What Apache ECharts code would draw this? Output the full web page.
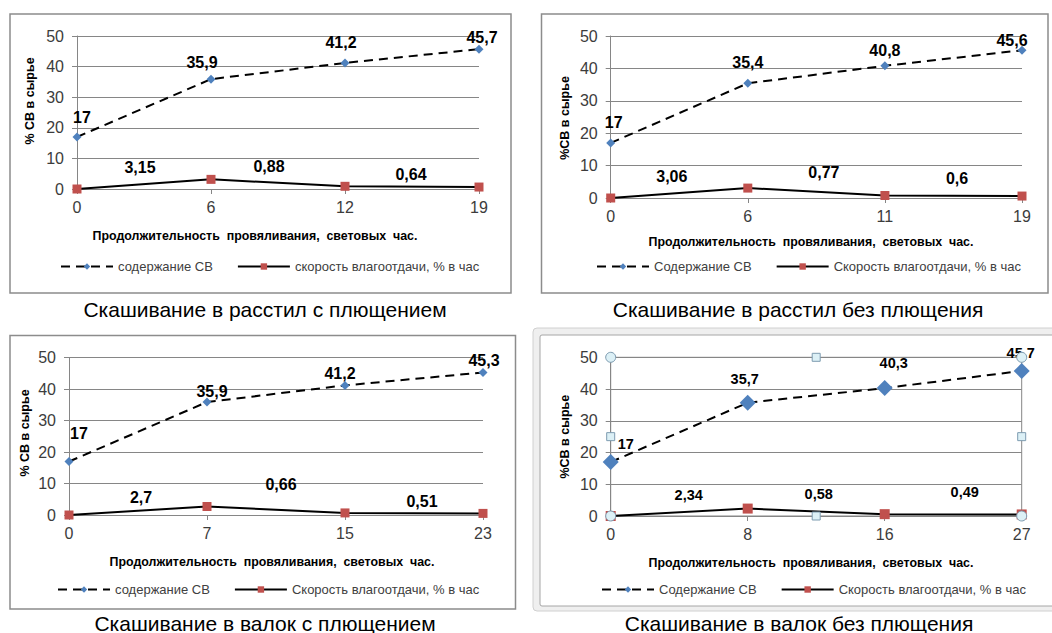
<!DOCTYPE html>
<html>
<head>
<meta charset="utf-8">
<script src="https://cdn.jsdelivr.net/npm/echarts@6/dist/echarts.min.js"></script>
<style>
  html, body { margin: 0; padding: 0; background: #ffffff; }
  #chart { width: 1052px; height: 633px; }
</style>
</head>
<body>
<div id="chart"></div>
<script>
// ---- data ----
const cats1 = ['0', '6', '12', '19'];
const sv1   = [17, 35.9, 41.2, 45.7];
const rate1 = [0, 3.15, 0.88, 0.64];

const cats2 = ['0', '6', '11', '19'];
const sv2   = [17, 35.4, 40.8, 45.6];
const rate2 = [0, 3.06, 0.77, 0.6];

const cats3 = ['0', '7', '15', '23'];
const sv3   = [17, 35.9, 41.2, 45.3];
const rate3 = [0, 2.7, 0.66, 0.51];

const cats4 = ['0', '8', '16', '27'];
const sv4   = [17, 35.7, 40.3, 45.7];
const rate4 = [0, 2.34, 0.58, 0.49];

const yTicks = [0, 10, 20, 30, 40, 50];

const titles = [
  'Скашивание в расстил с плющением',
  'Скашивание в расстил без плющения',
  'Скашивание в валок с плющением',
  'Скашивание в валок без плющения'
];
const xName = 'Продолжительность  провяливания,  световых  час.';
const yNames = ['% СВ в сырье', '%СВ в сырье', '% СВ в сырье', '%СВ в сырье'];
const svNames = ['содержание СВ', 'Содержание СВ', 'содержание СВ', 'Содержание СВ'];
const rateNames = ['скорость влагоотдачи, % в час', 'Скорость влагоотдачи, % в час',
                   'Скорость влагоотдачи, % в час', 'Скорость влагоотдачи, % в час'];

const panelsData = [
  { cats: cats1, sv: sv1, rate: rate1 },
  { cats: cats2, sv: sv2, rate: rate2 },
  { cats: cats3, sv: sv3, rate: rate3 },
  { cats: cats4, sv: sv4, rate: rate4 }
];

// ---- layout (pixels) ----
const layout = [
  { grid: [77, 36, 402, 153], frame: [10, 14, 501, 279], title: [265, 309], xn: [255, 236], yn: [30, 101],
    legend: [55, 255], svOff: [[5,-19],[-9,-17],[-4,-20],[3,-12]], rateOff: [[0,0],[-71,-12],[-76,-20],[-68,-13]] },
  { grid: [610.7, 36, 411.3, 162], frame: [541.5, 14, 506.5, 279], title: [798, 309], xn: [811, 242], yn: [565, 118],
    legend: [591, 255], svOff: [[3,-20],[0,-21],[0,-15],[-10,-10]], rateOff: [[0,0],[-76,-12],[-61,-23],[-65,-18]] },
  { grid: [69, 357.7, 414, 157.3], frame: [10, 335.5, 505.5, 273.5], title: [265, 623], xn: [272, 561.7], yn: [25, 433],
    legend: [52, 578], svOff: [[10,-28],[5,-11],[-5,-12],[1,-12]], rateOff: [[0,0],[-66,-9],[-64,-28],[-61,-12]] },
  { grid: [610.7, 357.3, 411, 158.7], frame: null, title: [799, 623], xn: [811, 562.7], yn: [565, 436.7],
    legend: [596, 578], svOff: [[15,-18],[-3,-24],[9,-25],[-1,-18]], rateOff: [[0,0],[-59,-14],[-66,-20],[-57,-22]] }
];

const FONT = '"Liberation Sans", Arial, sans-serif';
const GRAY = '#868686';
const fmt = v => (v === 0 ? '' : String(v).replace('.', ','));

const grids = [], xAxes = [], yAxes = [], series = [], legends = [], graphics = [];

// panel 4 outer frame (selected chart look)
graphics.push({ type: 'rect', shape: { x: 533, y: 328, width: 530, height: 283, r: 4 },
  style: { fill: '#efefef', stroke: '#d0d0d0', lineWidth: 1 }, z: -10 });
graphics.push({ type: 'rect', shape: { x: 540, y: 335, width: 520, height: 271, r: 2 },
  style: { fill: '#ffffff', stroke: '#a6a6a6', lineWidth: 1 }, z: -9 });

layout.forEach((L, i) => {
  const d = panelsData[i];
  const big = i === 3;
  grids.push({
    left: L.grid[0], top: L.grid[1], width: L.grid[2], height: L.grid[3],
    show: big, borderColor: GRAY, borderWidth: 1, backgroundColor: 'transparent'
  });
  xAxes.push({
    type: 'category', gridIndex: i, data: d.cats, boundaryGap: false,
    axisLine: { show: true, lineStyle: { color: GRAY, width: 1 } },
    axisTick: { show: true, length: 5, interval: 0, lineStyle: { color: GRAY } },
    axisLabel: { interval: 0, margin: 10, fontSize: 16, color: '#3c3c3c', fontFamily: FONT },
    splitLine: { show: false }
  });
  yAxes.push({
    type: 'value', gridIndex: i, min: yTicks[0], max: yTicks[yTicks.length - 1], interval: yTicks[1] - yTicks[0],
    axisLine: { show: true, lineStyle: { color: GRAY, width: 1 } },
    axisTick: { show: true, length: 5, lineStyle: { color: GRAY } },
    axisLabel: { margin: 13, fontSize: 16, color: '#3c3c3c', fontFamily: FONT },
    splitLine: { show: true, lineStyle: { color: GRAY, width: 1 } }
  });
  const lblFont = big ? 14.5 : 16;
  series.push({
    type: 'line', name: svNames[i], xAxisIndex: i, yAxisIndex: i,
    data: d.sv.map((v, k) => ({ value: v, label: { offset: L.svOff[k] } })),
    symbol: 'diamond', symbolSize: big ? 16 : 9,
    itemStyle: { color: '#4F81BD' },
    lineStyle: { color: '#000000', width: 2, type: [9, 6] },
    label: { show: true, position: 'inside', formatter: p => fmt(p.value),
      fontSize: lblFont, fontWeight: 'bold', color: '#000', fontFamily: FONT },
    z: 3, animation: false
  });
  series.push({
    type: 'line', name: rateNames[i], xAxisIndex: i, yAxisIndex: i,
    data: d.rate.map((v, k) => ({ value: v, label: { offset: L.rateOff[k] } })),
    symbol: 'rect', symbolSize: big ? 10 : 9,
    itemStyle: { color: '#C0504D' },
    lineStyle: { color: '#000000', width: 2, type: 'solid' },
    label: { show: true, position: 'inside', formatter: p => fmt(p.value),
      fontSize: lblFont, fontWeight: 'bold', color: '#000', fontFamily: FONT },
    z: 2, animation: false
  });
  legends.push({
    data: [svNames[i], rateNames[i]],
    left: L.legend[0], top: L.legend[1],
    itemWidth: 52, itemHeight: 8, itemGap: 24,
    textStyle: { fontSize: 13, color: '#404040', fontFamily: FONT },
    selectedMode: false
  });
  if (L.frame) {
    graphics.push({ type: 'rect', shape: { x: L.frame[0], y: L.frame[1], width: L.frame[2], height: L.frame[3] },
      style: { fill: 'none', stroke: '#8c8c8c', lineWidth: 1.5 }, z: -5 });
  }
  graphics.push({ type: 'text', x: L.title[0], y: L.title[1],
    style: { text: titles[i], font: '21px ' + FONT, fill: '#000', align: 'center', verticalAlign: 'middle',
      textAlign: 'center', textVerticalAlign: 'middle' } });
  graphics.push({ type: 'text', x: L.xn[0], y: L.xn[1],
    style: { text: xName, font: 'bold 12.4px ' + FONT, fill: '#000', align: 'center', verticalAlign: 'middle',
      textAlign: 'center', textVerticalAlign: 'middle' } });
  graphics.push({ type: 'text', x: L.yn[0], y: L.yn[1], rotation: Math.PI / 2,
    style: { text: yNames[i], font: 'bold 12.5px ' + FONT, fill: '#000', align: 'center', verticalAlign: 'middle',
      textAlign: 'center', textVerticalAlign: 'middle' } });
});

// selection handles around panel 4 plot area
(function () {
  const g = layout[3].grid;
  const x0 = g[0], y0 = g[1], x1 = g[0] + g[2], y1 = g[1] + g[3];
  const xm = (x0 + x1) / 2, ym = (y0 + y1) / 2;
  const hs = { fill: '#dcf0f6', stroke: '#7d9bb0', lineWidth: 1 };
  [[x0, y0], [x1, y0], [x0, y1], [x1, y1]].forEach(p => {
    graphics.push({ type: 'circle', shape: { cx: p[0], cy: p[1], r: 5 }, style: hs, z: 100 });
  });
  [[xm, y0], [xm, y1], [x0, ym], [x1, ym]].forEach(p => {
    graphics.push({ type: 'rect', shape: { x: p[0] - 4, y: p[1] - 4, width: 8, height: 8 }, style: hs, z: 100 });
  });
})();

const chart = echarts.init(document.getElementById('chart'), null, { renderer: 'svg' });
chart.setOption({
  animation: false,
  backgroundColor: '#ffffff',
  grid: grids, xAxis: xAxes, yAxis: yAxes, series: series, legend: legends,
  graphic: graphics
});
</script>
</body>
</html>
